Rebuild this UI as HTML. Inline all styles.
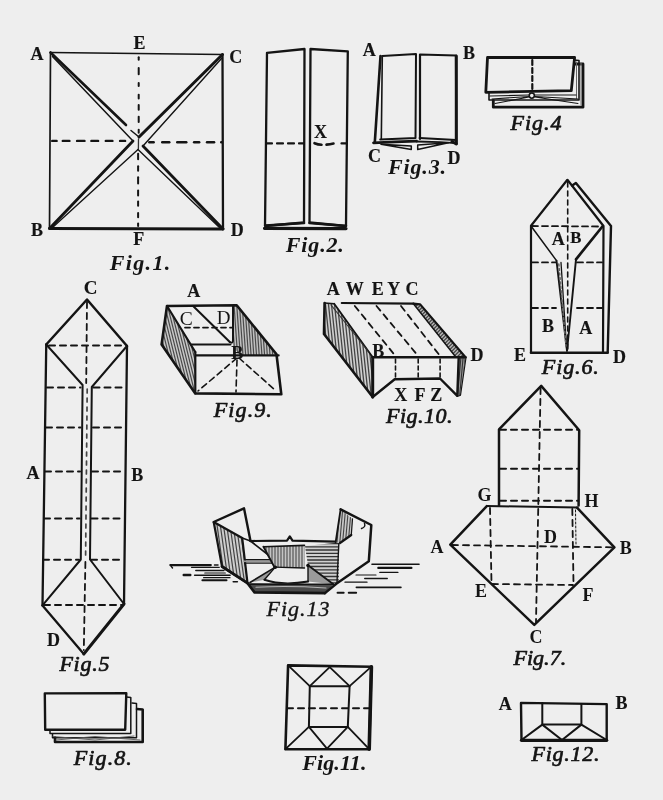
<!DOCTYPE html>
<html><head><meta charset="utf-8"><style>
html,body{margin:0;padding:0;background:#eeeeee;}
svg{display:block;filter:blur(0.35px);}
.lb{font-family:"Liberation Serif",serif;font-weight:bold;fill:#141414;text-anchor:middle;stroke:#141414;stroke-width:0.15px;}
.lm{font-family:"Liberation Serif",serif;font-weight:bold;fill:#141414;text-anchor:middle;stroke:none;}
.lr{font-family:"Liberation Serif",serif;fill:#141414;text-anchor:middle;stroke:none;}
.fgh{font-family:"Liberation Serif",serif;font-weight:bold;font-style:italic;fill:#141414;stroke:none;}
.fgm{font-family:"Liberation Serif",serif;font-style:italic;fill:#141414;stroke:#141414;stroke-width:0.7px;}
.fgl{font-family:"Liberation Serif",serif;font-style:italic;fill:#141414;stroke:#141414;stroke-width:0.35px;}
</style></head><body>
<svg width="663" height="800" viewBox="0 0 663 800">
<rect width="663" height="800" fill="#eeeeee"/>
<g fill="none" stroke="#141414" stroke-linecap="round" stroke-linejoin="round">
<line x1="50.5" y1="52.5" x2="222.5" y2="54.5" stroke-width="1.7"/>
<line x1="50.5" y1="52.5" x2="49.5" y2="228.5" stroke-width="1.7"/>
<line x1="222.5" y1="54.5" x2="223" y2="229" stroke-width="2.3"/>
<line x1="49.5" y1="228.5" x2="223" y2="229" stroke-width="2.9"/>
<line x1="138.7" y1="57.2" x2="138.7" y2="59.7" stroke-width="2.0"/>
<line x1="138.7" y1="67.9" x2="138.7" y2="74.3" stroke-width="2.0"/>
<line x1="138.7" y1="83.0" x2="138.7" y2="86.1" stroke-width="2.0"/>
<line x1="138.7" y1="94.8" x2="138.7" y2="98.4" stroke-width="2.0"/>
<line x1="138.7" y1="104.9" x2="138.7" y2="109.7" stroke-width="2.0"/>
<line x1="138.7" y1="116.7" x2="138.7" y2="122.0" stroke-width="2.0"/>
<line x1="138.7" y1="129.7" x2="138.7" y2="132.7" stroke-width="2.0"/>
<line x1="138.1" y1="153.7" x2="138.1" y2="159.2" stroke-width="2.0"/>
<line x1="138.1" y1="166.3" x2="138.1" y2="170.7" stroke-width="2.0"/>
<line x1="138.1" y1="177.3" x2="138.1" y2="183.4" stroke-width="2.0"/>
<line x1="138.1" y1="190.5" x2="138.1" y2="195.5" stroke-width="2.0"/>
<line x1="138.1" y1="201.5" x2="138.1" y2="205.8" stroke-width="2.0"/>
<line x1="138.1" y1="213.0" x2="138.1" y2="217.3" stroke-width="2.0"/>
<line x1="138.1" y1="223.4" x2="138.1" y2="226.0" stroke-width="2.0"/>
<line x1="138.5" y1="139" x2="138.4" y2="148.5" stroke-width="1.3" stroke="#333"/>
<line x1="52.2" y1="140.9" x2="56.6" y2="140.9" stroke-width="2.4"/>
<line x1="62.8" y1="140.9" x2="69.4" y2="140.9" stroke-width="2.4"/>
<line x1="77.1" y1="140.9" x2="84.5" y2="140.9" stroke-width="2.4"/>
<line x1="91.4" y1="140.9" x2="98.1" y2="140.9" stroke-width="2.4"/>
<line x1="105.8" y1="140.9" x2="112.4" y2="140.9" stroke-width="2.4"/>
<line x1="120.1" y1="140.9" x2="125.1" y2="140.9" stroke-width="2.4"/>
<line x1="149.3" y1="142.2" x2="153.7" y2="142.2" stroke-width="2.4"/>
<line x1="162.2" y1="142.2" x2="169.3" y2="142.2" stroke-width="2.4"/>
<line x1="177.2" y1="142.2" x2="186.3" y2="142.2" stroke-width="2.4"/>
<line x1="194.1" y1="142.2" x2="199.2" y2="142.2" stroke-width="2.4"/>
<line x1="207.0" y1="142.2" x2="214.1" y2="142.2" stroke-width="2.4"/>
<line x1="221.2" y1="142.2" x2="221.6" y2="142.2" stroke-width="2.4"/>
<line x1="50.5" y1="52.5" x2="126" y2="125" stroke-width="2.6"/>
<line x1="131" y1="130.5" x2="139" y2="137" stroke-width="1.5"/>
<line x1="52.5" y1="56.5" x2="133" y2="141" stroke-width="1.5"/>
<line x1="222.5" y1="54.5" x2="139" y2="137" stroke-width="3.0"/>
<line x1="221.5" y1="58.5" x2="143" y2="146" stroke-width="1.4"/>
<line x1="223" y1="229" x2="143" y2="146" stroke-width="2.8"/>
<line x1="220" y1="228" x2="138" y2="149.5" stroke-width="1.4"/>
<line x1="52.5" y1="227.5" x2="138" y2="149.5" stroke-width="1.4"/>
<line x1="49.5" y1="228.5" x2="133" y2="141" stroke-width="2.8"/>
<text x="37.0" y="60.3" class="lb" font-size="18.0">A</text>
<text x="139.6" y="48.8" class="lb" font-size="18.0">E</text>
<text x="235.8" y="62.5" class="lb" font-size="18.0">C</text>
<text x="37.0" y="235.8" class="lb" font-size="18.0">B</text>
<text x="237.2" y="236.4" class="lb" font-size="18.0">D</text>
<text x="138.8" y="245.4" class="lb" font-size="18.0">F</text>
<text x="109.8" y="270.3" class="fgh" font-size="22" textLength="60.4" lengthAdjust="spacing">Fig.1.</text>
<path d="M267,52.8 L304.5,49 L304,222.5 L265,226 Z" stroke-width="2.3"/>
<path d="M310.5,49 L347.8,51.3 L346,226 L309.5,222.5 Z" stroke-width="2.3"/>
<path d="M264.5,228.3 L346,228.6" stroke-width="3.2"/>
<path d="M266,225.5 L304,223 M309.5,223 L346,226" stroke-width="2.6"/>
<line x1="266" y1="143.4" x2="304" y2="143.4" stroke-width="2.2" stroke-dasharray="6,5"/>
<path d="M314.5,143.2 Q318,144.6 321.5,144.8" stroke-width="2.6"/>
<path d="M326.5,144.6 Q330,144.4 333.5,143.6" stroke-width="2.6"/>
<line x1="341.5" y1="143.4" x2="346.5" y2="143.4" stroke-width="2.2"/>
<text x="320.5" y="137.9" class="lb" font-size="18.0">X</text>
<text x="285.8" y="252" class="fgh" font-size="22" textLength="58.0" lengthAdjust="spacing">Fig.2.</text>
<path d="M382.3,56 L416,54 L415.5,138 L380.2,139.5" stroke-width="2.0"/>
<line x1="382.3" y1="56" x2="381.3" y2="139" stroke-width="1.6"/>
<path d="M380.5,56 L374.8,142.3" stroke-width="2.6"/>
<path d="M420,139 L420,54.5 L456,55.5 L456.3,143.5" stroke-width="2.2"/>
<line x1="456.3" y1="56" x2="456.3" y2="143.5" stroke-width="3"/>
<line x1="419.6" y1="138" x2="456" y2="140" stroke-width="2.0"/>
<path d="M373.5,142.8 L395,141.8 L416.5,141.2" stroke-width="2.8"/>
<path d="M416.5,141.5 L440,142.2 L455.5,143.2" stroke-width="1.8"/>
<line x1="452" y1="141.5" x2="456.3" y2="144" stroke-width="3.0"/>
<path d="M381,144.3 L411.3,146 L411.3,149.5 Z" stroke-width="1.5"/>
<path d="M417.7,145 L448.4,142.7 L417.7,149.5 Z" stroke-width="1.5"/>
<text x="369.2" y="55.5" class="lb" font-size="18.0">A</text>
<text x="468.9" y="58.8" class="lb" font-size="18.0">B</text>
<text x="374.6" y="162.2" class="lb" font-size="18.0">C</text>
<text x="454.1" y="164.0" class="lb" font-size="18.0">D</text>
<text x="388.0" y="174.2" class="fgh" font-size="22" textLength="58.0" lengthAdjust="spacing">Fig.3.</text>
<path d="M575,64 L583,64 L583,107.2 L493.3,107.2 L493.3,100.5" stroke-width="2.8"/>
<path d="M574,60 L579,60.5 L579,100 L489,100 L489,93" stroke-width="1.6"/>
<line x1="576.5" y1="62" x2="576.5" y2="99" stroke-width="1.0" stroke="#666"/>
<line x1="581" y1="63" x2="581" y2="105" stroke-width="1.0" stroke="#777"/>
<path d="M487.5,57.5 L574.6,57.5 L571.3,90.7 L485.8,92.3 Z" stroke-width="2.8"/>
<line x1="532.3" y1="60" x2="532.3" y2="89" stroke-width="2.2" stroke-dasharray="5,3"/>
<circle cx="531.8" cy="95.6" r="2.6" stroke-width="1.6"/>
<path d="M490,96 L529,95 M535,95 L576,95 M495,103.5 L529,97 M535,97 L578,103.5 M492,99 L529,96.5 M535,96.5 L578,99" stroke-width="1.1"/>
<text x="510.5" y="130.1" class="fgm" font-size="22" textLength="51.0" lengthAdjust="spacing">Fig.4</text>
<path d="M46.25,344.5 L87,299.5 L127,346" stroke-width="2.5"/>
<line x1="46.25" y1="344.5" x2="42.5" y2="605.4" stroke-width="2.3"/>
<line x1="127" y1="346" x2="124" y2="604" stroke-width="2.3"/>
<path d="M46.25,344.5 L82.6,385 L80.8,559.5 L42.5,605.4" stroke-width="2.0"/>
<path d="M127,346 L91.8,387 L90,559.5 L124,604" stroke-width="2.0"/>
<line x1="87.2" y1="389" x2="85.6" y2="557" stroke-width="1.7" stroke-dasharray="4,5" stroke="#444"/>
<path d="M42.5,605.4 L83.8,654" stroke-width="2.3"/>
<path d="M124,604 L83.8,654" stroke-width="3.0"/>
<line x1="87" y1="302" x2="86.2" y2="383" stroke-width="1.8" stroke-dasharray="6,5"/>
<line x1="85.4" y1="562" x2="83.8" y2="650" stroke-width="1.8" stroke-dasharray="6,5"/>
<line x1="49" y1="345.5" x2="125" y2="345.5" stroke-width="2.0" stroke-dasharray="6,5"/>
<line x1="47" y1="387.5" x2="80.5" y2="387.5" stroke-width="2.0" stroke-dasharray="6,5"/>
<line x1="93.5" y1="387.5" x2="126" y2="387.5" stroke-width="2.0" stroke-dasharray="6,5"/>
<line x1="46" y1="427.5" x2="80.5" y2="427.5" stroke-width="2.0" stroke-dasharray="6,5"/>
<line x1="93" y1="427.5" x2="126" y2="427.5" stroke-width="2.0" stroke-dasharray="6,5"/>
<line x1="45" y1="471.5" x2="80" y2="471.5" stroke-width="2.0" stroke-dasharray="6,5"/>
<line x1="92" y1="471.5" x2="125" y2="471.5" stroke-width="2.0" stroke-dasharray="6,5"/>
<line x1="44" y1="518.6" x2="79.5" y2="518.6" stroke-width="2.0" stroke-dasharray="6,5"/>
<line x1="91.5" y1="518.6" x2="124.5" y2="518.6" stroke-width="2.0" stroke-dasharray="6,5"/>
<line x1="43" y1="559.7" x2="79" y2="559.7" stroke-width="2.0" stroke-dasharray="6,5"/>
<line x1="91" y1="559.7" x2="124" y2="559.7" stroke-width="2.0" stroke-dasharray="6,5"/>
<line x1="44" y1="605" x2="122" y2="605" stroke-width="2.0" stroke-dasharray="6,5"/>
<text x="90.5" y="294.2" class="lb" font-size="19.0">C</text>
<text x="33.0" y="478.5" class="lb" font-size="18.0">A</text>
<text x="137.3" y="480.5" class="lb" font-size="18.0">B</text>
<text x="53.6" y="646.0" class="lb" font-size="18.0">D</text>
<text x="59.4" y="671.1" class="fgm" font-size="22" textLength="50.0" lengthAdjust="spacing">Fig.5</text>
<path d="M572.2,185.6 L575.9,183 L611,226 L607.7,352" stroke-width="2.4"/>
<path d="M531,352.5 L531,225.7 L567.4,179.8 L603.5,226 L603,352.5" stroke-width="2.2"/>
<line x1="531" y1="352.7" x2="607.7" y2="352.7" stroke-width="2.6"/>
<line x1="531" y1="226" x2="556.5" y2="260.6" stroke-width="1.5"/>
<path d="M556.5,260.6 L567,351 L576,259.3" stroke-width="1.9"/>
<line x1="576" y1="259.3" x2="602.4" y2="226.5" stroke-width="2.7"/>
<line x1="561" y1="262.5" x2="566.6" y2="348" stroke-width="1.3"/>
<line x1="558.8" y1="264" x2="566" y2="346" stroke-width="1.6" stroke-dasharray="2,2.5" stroke="#666"/>
<line x1="567.7" y1="182" x2="567.7" y2="349" stroke-width="1.6" stroke-dasharray="5,4"/>
<line x1="532" y1="226" x2="601" y2="226.5" stroke-width="1.8" stroke-dasharray="6,4"/>
<line x1="532" y1="262.4" x2="556" y2="262.4" stroke-width="1.8" stroke-dasharray="6,4"/>
<line x1="577" y1="262.4" x2="602" y2="262.4" stroke-width="1.8" stroke-dasharray="6,4"/>
<line x1="532" y1="308" x2="556" y2="308" stroke-width="1.8" stroke-dasharray="6,4"/>
<line x1="577" y1="308" x2="602" y2="308" stroke-width="1.8" stroke-dasharray="6,4"/>
<text x="558.2" y="244.6" class="lb" font-size="18.0">A</text>
<text x="575.9" y="243.3" class="lb" font-size="16.8">B</text>
<text x="547.9" y="331.8" class="lb" font-size="18.0">B</text>
<text x="585.8" y="334.0" class="lb" font-size="18.0">A</text>
<text x="520.1" y="361.2" class="lb" font-size="18.0">E</text>
<text x="619.4" y="363.2" class="lb" font-size="18.0">D</text>
<text x="541.8" y="373.5" class="fgm" font-size="22" textLength="57.0" lengthAdjust="spacing">Fig.6.</text>
<path d="M499,505.5 L499,429.3 L541.2,385.9 L579.2,430.2 L578.6,505.5" stroke-width="2.5"/>
<line x1="487" y1="506" x2="577.5" y2="507.5" stroke-width="2.0"/>
<line x1="500" y1="429.7" x2="578" y2="429.7" stroke-width="2.0" stroke-dasharray="6,5"/>
<line x1="500" y1="468.8" x2="578" y2="468.8" stroke-width="2.0" stroke-dasharray="6,5"/>
<line x1="500" y1="500.8" x2="578" y2="500.8" stroke-width="2.0" stroke-dasharray="6,5"/>
<line x1="540.6" y1="388" x2="536" y2="622" stroke-width="1.8" stroke-dasharray="6,5"/>
<path d="M486.8,506.1 L450.3,544.7 L534.3,624.9 L614.4,547.3 L577,507.7" stroke-width="2.5"/>
<line x1="452" y1="545" x2="612" y2="547.3" stroke-width="1.8" stroke-dasharray="6,5"/>
<line x1="490" y1="508" x2="491.5" y2="583" stroke-width="1.8" stroke-dasharray="6,5"/>
<line x1="572.3" y1="509" x2="573.5" y2="584" stroke-width="1.8" stroke-dasharray="6,5"/>
<line x1="492" y1="584" x2="573" y2="585" stroke-width="1.8" stroke-dasharray="6,5"/>
<line x1="575.5" y1="510" x2="576" y2="544" stroke-width="1.0" stroke-dasharray="2,2"/>
<text x="484.5" y="500.8" class="lm" font-size="18.0">G</text>
<text x="591.5" y="507.3" class="lm" font-size="18.0">H</text>
<text x="437.0" y="552.5" class="lm" font-size="18.0">A</text>
<text x="550.6" y="542.5" class="lm" font-size="18.0">D</text>
<text x="625.8" y="554.3" class="lm" font-size="18.0">B</text>
<text x="480.9" y="597.4" class="lm" font-size="18.0">E</text>
<text x="587.9" y="600.5" class="lm" font-size="18.0">F</text>
<text x="536.1" y="643.3" class="lm" font-size="18.0">C</text>
<text x="513.4" y="664.6" class="fgm" font-size="22" textLength="52.8" lengthAdjust="spacing">Fig.7.</text>
<path d="M137,709 L142.7,709.5 L142.7,742 L55,742 L55,737.5" stroke-width="2.6"/>
<path d="M132,703 L136.5,703.5 L136.5,737.8 L52.5,737.8 L52.5,734" stroke-width="1.5"/>
<path d="M126.5,697 L130.8,697.5 L130.8,733.6 L50,733.6 L50,730.5" stroke-width="1.5"/>
<path d="M44.8,693.4 L126.3,693.2 L125.2,729.8 L45.2,729.8 Z" stroke-width="2.4"/>
<path d="M56,740 L95,736.5 L140,740 M53,736.5 L95,740 L134,736" stroke-width="0.9" stroke="#555"/>
<text x="73.8" y="765.1" class="fgm" font-size="22" textLength="58.0" lengthAdjust="spacing">Fig.8.</text>
<path d="M167,306 L195.3,352 L195.3,393 L161.6,344.5 Z" fill="#c8c8c8" stroke="none"/>
<clipPath id="c1"><path d="M167,306 L195.3,352 L195.3,393 L161.6,344.5 Z"/></clipPath><path clip-path="url(#c1)" d="M254.2,229.1 L301.8,420.3 M251.6,229.8 L299.2,420.9 M248.9,230.4 L296.6,421.6 M246.3,231.1 L294.0,422.2 M243.7,231.7 L291.4,422.9 M241.1,232.4 L288.7,423.5 M238.5,233.0 L286.1,424.2 M235.8,233.7 L283.5,424.8 M233.2,234.3 L280.9,425.5 M230.6,235.0 L278.3,426.1 M228.0,235.6 L275.6,426.8 M225.4,236.3 L273.0,427.4 M222.7,236.9 L270.4,428.1 M220.1,237.6 L267.8,428.7 M217.5,238.2 L265.2,429.4 M214.9,238.9 L262.5,430.1 M212.3,239.6 L259.9,430.7 M209.6,240.2 L257.3,431.4 M207.0,240.9 L254.7,432.0 M204.4,241.5 L252.1,432.7 M201.8,242.2 L249.4,433.3 M199.2,242.8 L246.8,434.0 M196.5,243.5 L244.2,434.6 M193.9,244.1 L241.6,435.3 M191.3,244.8 L239.0,435.9 M188.7,245.4 L236.3,436.6 M186.1,246.1 L233.7,437.2 M183.4,246.7 L231.1,437.9 M180.8,247.4 L228.5,438.5 M178.2,248.0 L225.9,439.2 M175.6,248.7 L223.2,439.8 M173.0,249.4 L220.6,440.5 M170.3,250.0 L218.0,441.2 M167.7,250.7 L215.4,441.8 M165.1,251.3 L212.8,442.5 M162.5,252.0 L210.1,443.1 M159.9,252.6 L207.5,443.8 M157.2,253.3 L204.9,444.4 M154.6,253.9 L202.3,445.1 M152.0,254.6 L199.7,445.7 M149.4,255.2 L197.0,446.4 M146.8,255.9 L194.4,447.0 M144.1,256.5 L191.8,447.7 M141.5,257.2 L189.2,448.3 M138.9,257.8 L186.6,449.0 M136.3,258.5 L183.9,449.6 M133.7,259.2 L181.3,450.3 M131.0,259.8 L178.7,451.0 M128.4,260.5 L176.1,451.6 M125.8,261.1 L173.5,452.3 M123.2,261.8 L170.8,452.9 M120.6,262.4 L168.2,453.6 M117.9,263.1 L165.6,454.2 M115.3,263.7 L163.0,454.9 M112.7,264.4 L160.4,455.5 M110.1,265.0 L157.7,456.2 M107.5,265.7 L155.1,456.8 M104.8,266.3 L152.5,457.5 M102.2,267.0 L149.9,458.1 M99.6,267.6 L147.3,458.8 M97.0,268.3 L144.6,459.4 M94.4,268.9 L142.0,460.1 M91.7,269.6 L139.4,460.8 M89.1,270.3 L136.8,461.4 M86.5,270.9 L134.2,462.1 M83.9,271.6 L131.5,462.7 M81.3,272.2 L128.9,463.4 M78.6,272.9 L126.3,464.0 M76.0,273.5 L123.7,464.7 M73.4,274.2 L121.1,465.3 M70.8,274.8 L118.4,466.0 M68.2,275.5 L115.8,466.6 M65.5,276.1 L113.2,467.3 M62.9,276.8 L110.6,467.9 M60.3,277.4 L108.0,468.6 M57.7,278.1 L105.3,469.2 M55.1,278.7 L102.7,469.9" stroke-width="1.2" stroke="#4a4a4a"/>
<path d="M234,306 L236.7,305.3 L276.5,354.5 L240,355.3 L233,347 Z" fill="#c0c0c0" stroke="none"/>
<clipPath id="c2"><path d="M234,306 L236.7,305.3 L276.5,354.5 L240,355.3 L233,347 Z"/></clipPath><path clip-path="url(#c2)" d="M325.1,253.3 L335.2,396.8 M322.5,253.5 L332.5,397.0 M319.8,253.7 L329.8,397.1 M317.1,253.8 L327.1,397.3 M314.4,254.0 L324.4,397.5 M311.7,254.2 L321.7,397.7 M309.0,254.4 L319.0,397.9 M306.3,254.6 L316.3,398.1 M303.6,254.8 L313.6,398.3 M300.9,255.0 L310.9,398.5 M298.2,255.2 L308.2,398.7 M295.5,255.4 L305.6,398.8 M292.8,255.5 L302.9,399.0 M290.1,255.7 L300.2,399.2 M287.4,255.9 L297.5,399.4 M284.7,256.1 L294.8,399.6 M282.1,256.3 L292.1,399.8 M279.4,256.5 L289.4,400.0 M276.7,256.7 L286.7,400.2 M274.0,256.9 L284.0,400.3 M271.3,257.1 L281.3,400.5 M268.6,257.2 L278.6,400.7 M265.9,257.4 L275.9,400.9 M263.2,257.6 L273.2,401.1 M260.5,257.8 L270.5,401.3 M257.8,258.0 L267.8,401.5 M255.1,258.2 L265.2,401.7 M252.4,258.4 L262.5,401.9 M249.7,258.6 L259.8,402.0 M247.0,258.7 L257.1,402.2 M244.3,258.9 L254.4,402.4 M241.7,259.1 L251.7,402.6 M239.0,259.3 L249.0,402.8 M236.3,259.5 L246.3,403.0 M233.6,259.7 L243.6,403.2 M230.9,259.9 L240.9,403.4 M228.2,260.1 L238.2,403.5 M225.5,260.3 L235.5,403.7 M222.8,260.4 L232.8,403.9 M220.1,260.6 L230.1,404.1 M217.4,260.8 L227.4,404.3 M214.7,261.0 L224.8,404.5 M212.0,261.2 L222.1,404.7 M209.3,261.4 L219.4,404.9 M206.6,261.6 L216.7,405.1 M203.9,261.8 L214.0,405.2 M201.3,261.9 L211.3,405.4 M198.6,262.1 L208.6,405.6 M195.9,262.3 L205.9,405.8 M193.2,262.5 L203.2,406.0 M190.5,262.7 L200.5,406.2 M187.8,262.9 L197.8,406.4 M185.1,263.1 L195.1,406.6 M182.4,263.3 L192.4,406.8 M179.7,263.5 L189.7,406.9 M177.0,263.6 L187.0,407.1 M174.3,263.8 L184.4,407.3" stroke-width="1.2" stroke="#4a4a4a"/>
<path d="M195.3,393.4 L161.6,344.5 L167,306 L236.7,305.3 L276.5,354.3 L281.3,394.3 L195.3,393.4" stroke-width="2.6"/>
<line x1="167" y1="306" x2="195.3" y2="352" stroke-width="2.2"/>
<line x1="195.3" y1="352" x2="195.3" y2="393.4" stroke-width="2.2"/>
<line x1="191" y1="344.5" x2="230.4" y2="344.5" stroke-width="2.2"/>
<line x1="193.6" y1="306.5" x2="229.8" y2="342" stroke-width="2.0"/>
<path d="M229.8,342 Q233,344 233,340 L233,306" stroke-width="2.0"/>
<line x1="185" y1="327.6" x2="232" y2="327.6" stroke-width="1.8" stroke-dasharray="5,4"/>
<line x1="196" y1="355.4" x2="278.6" y2="355.4" stroke-width="2.2"/>
<line x1="237" y1="358" x2="198" y2="391" stroke-width="1.6" stroke-dasharray="6,4"/>
<line x1="237" y1="360" x2="236" y2="392" stroke-width="1.6" stroke-dasharray="6,4"/>
<line x1="239" y1="358" x2="275" y2="390" stroke-width="1.6" stroke-dasharray="6,4"/>
<text x="193.8" y="296.6" class="lb" font-size="18.0">A</text>
<text x="186.3" y="325.2" class="lr" font-size="19.5">C</text>
<text x="223.7" y="324.0" class="lr" font-size="19.0">D</text>
<text x="237.3" y="359.4" class="lb" font-size="18.0">B</text>
<text x="213.8" y="417.2" class="fgm" font-size="22" textLength="58.0" lengthAdjust="spacing">Fig.9.</text>
<path d="M324.6,303 L334.2,303.7 L372.7,357.3 L372.7,397 L324,334 Z" fill="#cfcfcf" stroke="none"/>
<clipPath id="c3"><path d="M324.6,303 L334.2,303.7 L372.7,357.3 L372.7,397 L324,334 Z"/></clipPath><path clip-path="url(#c3)" d="M453.1,227.1 L476.3,448.4 M450.1,227.4 L473.4,448.7 M447.1,227.7 L470.4,449.1 M444.1,228.0 L467.4,449.4 M441.1,228.4 L464.4,449.7 M438.2,228.7 L461.4,450.0 M435.2,229.0 L458.4,450.3 M432.2,229.3 L455.5,450.6 M429.2,229.6 L452.5,450.9 M426.2,229.9 L449.5,451.3 M423.2,230.2 L446.5,451.6 M420.3,230.6 L443.5,451.9 M417.3,230.9 L440.5,452.2 M414.3,231.2 L437.6,452.5 M411.3,231.5 L434.6,452.8 M408.3,231.8 L431.6,453.1 M405.3,232.1 L428.6,453.4 M402.4,232.4 L425.6,453.8 M399.4,232.8 L422.6,454.1 M396.4,233.1 L419.7,454.4 M393.4,233.4 L416.7,454.7 M390.4,233.7 L413.7,455.0 M387.4,234.0 L410.7,455.3 M384.5,234.3 L407.7,455.6 M381.5,234.6 L404.7,456.0 M378.5,234.9 L401.8,456.3 M375.5,235.3 L398.8,456.6 M372.5,235.6 L395.8,456.9 M369.5,235.9 L392.8,457.2 M366.6,236.2 L389.8,457.5 M363.6,236.5 L386.8,457.8 M360.6,236.8 L383.8,458.2 M357.6,237.1 L380.9,458.5 M354.6,237.5 L377.9,458.8 M351.6,237.8 L374.9,459.1 M348.7,238.1 L371.9,459.4 M345.7,238.4 L368.9,459.7 M342.7,238.7 L365.9,460.0 M339.7,239.0 L363.0,460.3 M336.7,239.3 L360.0,460.7 M333.7,239.7 L357.0,461.0 M330.8,240.0 L354.0,461.3 M327.8,240.3 L351.0,461.6 M324.8,240.6 L348.0,461.9 M321.8,240.9 L345.1,462.2 M318.8,241.2 L342.1,462.5 M315.8,241.5 L339.1,462.9 M312.9,241.8 L336.1,463.2 M309.9,242.2 L333.1,463.5 M306.9,242.5 L330.1,463.8 M303.9,242.8 L327.2,464.1 M300.9,243.1 L324.2,464.4 M297.9,243.4 L321.2,464.7 M294.9,243.7 L318.2,465.1 M292.0,244.0 L315.2,465.4 M289.0,244.4 L312.2,465.7 M286.0,244.7 L309.3,466.0 M283.0,245.0 L306.3,466.3 M280.0,245.3 L303.3,466.6 M277.0,245.6 L300.3,466.9 M274.1,245.9 L297.3,467.2 M271.1,246.2 L294.3,467.6 M268.1,246.6 L291.4,467.9 M265.1,246.9 L288.4,468.2 M262.1,247.2 L285.4,468.5 M259.1,247.5 L282.4,468.8 M256.2,247.8 L279.4,469.1 M253.2,248.1 L276.4,469.4 M250.2,248.4 L273.5,469.8 M247.2,248.7 L270.5,470.1 M244.2,249.1 L267.5,470.4 M241.2,249.4 L264.5,470.7 M238.3,249.7 L261.5,471.0 M235.3,250.0 L258.5,471.3 M232.3,250.3 L255.6,471.6 M229.3,250.6 L252.6,472.0 M226.3,250.9 L249.6,472.3 M223.3,251.3 L246.6,472.6 M220.4,251.6 L243.6,472.9" stroke-width="1.3" stroke="#444"/>
<path d="M413.4,303.7 L420.2,304.4 L465.5,357.3 L456,357.3 Z" fill="#bbb" stroke="none"/>
<clipPath id="c4"><path d="M413.4,303.7 L420.2,304.4 L465.5,357.3 L456,357.3 Z"/></clipPath><path clip-path="url(#c4)" d="M555.1,332.5 L441.4,446.2 M553.3,330.6 L439.6,444.3 M551.5,328.8 L437.7,442.5 M549.6,327.0 L435.9,440.7 M547.8,325.1 L434.1,438.8 M545.9,323.3 L432.2,437.0 M544.1,321.4 L430.4,435.2 M542.3,319.6 L428.6,433.3 M540.4,317.8 L426.7,431.5 M538.6,315.9 L424.9,429.6 M536.8,314.1 L423.0,427.8 M534.9,312.3 L421.2,426.0 M533.1,310.4 L419.4,424.1 M531.2,308.6 L417.5,422.3 M529.4,306.7 L415.7,420.4 M527.6,304.9 L413.8,418.6 M525.7,303.1 L412.0,416.8 M523.9,301.2 L410.2,414.9 M522.0,299.4 L408.3,413.1 M520.2,297.5 L406.5,411.3 M518.4,295.7 L404.7,409.4 M516.5,293.9 L402.8,407.6 M514.7,292.0 L401.0,405.7 M512.9,290.2 L399.1,403.9 M511.0,288.4 L397.3,402.1 M509.2,286.5 L395.5,400.2 M507.3,284.7 L393.6,398.4 M505.5,282.8 L391.8,396.5 M503.7,281.0 L389.9,394.7 M501.8,279.2 L388.1,392.9 M500.0,277.3 L386.3,391.0 M498.1,275.5 L384.4,389.2 M496.3,273.6 L382.6,387.4 M494.5,271.8 L380.8,385.5 M492.6,270.0 L378.9,383.7 M490.8,268.1 L377.1,381.8 M489.0,266.3 L375.2,380.0 M487.1,264.5 L373.4,378.2 M485.3,262.6 L371.6,376.3 M483.4,260.8 L369.7,374.5 M481.6,258.9 L367.9,372.6 M479.8,257.1 L366.0,370.8 M477.9,255.3 L364.2,369.0 M476.1,253.4 L362.4,367.1 M474.2,251.6 L360.5,365.3 M472.4,249.7 L358.7,363.5 M470.6,247.9 L356.9,361.6 M468.7,246.1 L355.0,359.8 M466.9,244.2 L353.2,357.9 M465.1,242.4 L351.3,356.1 M463.2,240.6 L349.5,354.3 M461.4,238.7 L347.7,352.4 M459.5,236.9 L345.8,350.6 M457.7,235.0 L344.0,348.7 M455.9,233.2 L342.1,346.9 M454.0,231.4 L340.3,345.1 M452.2,229.5 L338.5,343.2 M450.3,227.7 L336.6,341.4 M448.5,225.8 L334.8,339.6 M446.7,224.0 L333.0,337.7 M444.8,222.2 L331.1,335.9 M443.0,220.3 L329.3,334.0 M441.2,218.5 L327.4,332.2 M439.3,216.7 L325.6,330.4 M437.5,214.8 L323.8,328.5" stroke-width="1.3" stroke="#444"/>
<path d="M324.6,303 L324,334 L372.7,397" stroke-width="2.6"/>
<line x1="334.2" y1="303.7" x2="372.7" y2="357.3" stroke-width="1.8"/>
<line x1="331" y1="305" x2="368" y2="351" stroke-width="1.1" stroke="#333"/>
<line x1="324.6" y1="303" x2="334.2" y2="303.7" stroke-width="1.6"/>
<line x1="341.8" y1="303" x2="413.4" y2="303.7" stroke-width="2.2"/>
<path d="M413.4,303.7 L420.2,304.4 L465.5,357.3 L460,395 L457.3,395.8" stroke-width="2.2"/>
<line x1="413.4" y1="303.7" x2="456" y2="357.3" stroke-width="1.5"/>
<path d="M458.7,357.3 L465.5,357.3 L460,395 L457.3,395.8 Z" fill="#999" stroke="none"/>
<clipPath id="c5"><path d="M458.7,357.3 L465.5,357.3 L460,395 L457.3,395.8 Z"/></clipPath><path clip-path="url(#c5)" d="M513.5,336.7 L505.8,424.8 M511.3,336.5 L503.6,424.6 M509.1,336.3 L501.4,424.4 M506.9,336.1 L499.2,424.2 M504.7,336.0 L497.0,424.0 M502.5,335.8 L494.8,423.9 M500.3,335.6 L492.6,423.7 M498.1,335.4 L490.4,423.5 M495.9,335.2 L488.2,423.3 M493.7,335.0 L486.0,423.1 M491.6,334.8 L483.8,422.9 M489.4,334.6 L481.7,422.7 M487.2,334.4 L479.5,422.5 M485.0,334.2 L477.3,422.3 M482.8,334.0 L475.1,422.1 M480.6,333.8 L472.9,421.9 M478.4,333.7 L470.7,421.7 M476.2,333.5 L468.5,421.6 M474.0,333.3 L466.3,421.4 M471.8,333.1 L464.1,421.2 M469.6,332.9 L461.9,421.0 M467.4,332.7 L459.7,420.8 M465.3,332.5 L457.5,420.6 M463.1,332.3 L455.4,420.4 M460.9,332.1 L453.2,420.2 M458.7,331.9 L451.0,420.0 M456.5,331.7 L448.8,419.8 M454.3,331.5 L446.6,419.6 M452.1,331.4 L444.4,419.4 M449.9,331.2 L442.2,419.3 M447.7,331.0 L440.0,419.1 M445.5,330.8 L437.8,418.9 M443.3,330.6 L435.6,418.7 M441.1,330.4 L433.4,418.5 M439.0,330.2 L431.2,418.3 M436.8,330.0 L429.1,418.1 M434.6,329.8 L426.9,417.9 M432.4,329.6 L424.7,417.7 M430.2,329.4 L422.5,417.5 M428.0,329.2 L420.3,417.3 M425.8,329.1 L418.1,417.1 M423.6,328.9 L415.9,417.0 M421.4,328.7 L413.7,416.8 M419.2,328.5 L411.5,416.6 M417.0,328.3 L409.3,416.4" stroke-width="1.1" stroke="#333"/>
<line x1="372.7" y1="357.3" x2="465.5" y2="357.3" stroke-width="2.4"/>
<line x1="372.7" y1="357.3" x2="372.7" y2="397" stroke-width="3.0"/>
<path d="M372.7,397 L394.7,379.3 L440,378.5 L457.3,395.8 L458.7,357.3" stroke-width="2.4"/>
<line x1="395.5" y1="359" x2="395.5" y2="378" stroke-width="1.6" stroke-dasharray="4,3"/>
<line x1="418.2" y1="359" x2="418.2" y2="378" stroke-width="1.6" stroke-dasharray="4,3"/>
<line x1="440.1" y1="359" x2="440.1" y2="378" stroke-width="1.6" stroke-dasharray="4,3"/>
<line x1="354.8" y1="306" x2="395.5" y2="356" stroke-width="1.8" stroke-dasharray="6,5"/>
<line x1="376.5" y1="306" x2="418.2" y2="356" stroke-width="1.8" stroke-dasharray="6,5"/>
<line x1="401" y1="306" x2="440.1" y2="356" stroke-width="1.8" stroke-dasharray="6,5"/>
<text x="333.2" y="294.6" class="lb" font-size="18.0">A</text>
<text x="354.8" y="294.6" class="lb" font-size="18.0">W</text>
<text x="377.7" y="294.6" class="lb" font-size="18.0">E</text>
<text x="393.8" y="294.6" class="lb" font-size="18.0">Y</text>
<text x="412.1" y="294.6" class="lb" font-size="18.0">C</text>
<text x="378.3" y="356.6" class="lb" font-size="18.0">B</text>
<text x="477.1" y="360.8" class="lb" font-size="18.0">D</text>
<text x="400.8" y="400.6" class="lb" font-size="18.0">X</text>
<text x="420.1" y="400.6" class="lb" font-size="18.0">F</text>
<text x="436.2" y="400.6" class="lb" font-size="18.0">Z</text>
<text x="386.0" y="422.9" class="fgm" font-size="22" textLength="66.6" lengthAdjust="spacing">Fig.10.</text>
<path d="M288.1,665.4 L371.4,666.7 L369.2,749.2 L285.4,749.2 Z" stroke-width="2.6"/>
<line x1="371.4" y1="666.7" x2="369.2" y2="749.2" stroke-width="3.6"/>
<path d="M309.8,686.2 L349.6,686.2 L347.8,726.9 L308.9,726.9 Z" stroke-width="2.0"/>
<line x1="288.1" y1="665.4" x2="309.8" y2="686.2" stroke-width="1.8"/>
<line x1="371.4" y1="666.7" x2="349.6" y2="686.2" stroke-width="1.8"/>
<line x1="285.4" y1="749.2" x2="308.9" y2="726.9" stroke-width="1.8"/>
<line x1="369.2" y1="749.2" x2="347.8" y2="726.9" stroke-width="1.8"/>
<line x1="329.7" y1="667.2" x2="309.8" y2="686.2" stroke-width="1.8"/>
<line x1="329.7" y1="667.2" x2="349.6" y2="686.2" stroke-width="1.8"/>
<line x1="327" y1="748.6" x2="308.9" y2="726.9" stroke-width="1.8"/>
<line x1="327" y1="748.6" x2="347.8" y2="726.9" stroke-width="1.8"/>
<line x1="287" y1="708.3" x2="369" y2="708.3" stroke-width="2.0" stroke-dasharray="6,5"/>
<text x="302.2" y="770.4" class="fgh" font-size="22" textLength="64.2" lengthAdjust="spacing">Fig.11.</text>
<path d="M521,702.9 L606.7,704.1 L606.7,740.3 L521.5,740.3 Z" stroke-width="2.4"/>
<line x1="521.5" y1="740.3" x2="606.7" y2="740.3" stroke-width="3.2"/>
<path d="M542.3,703 L542.3,724.6 L581.4,724.6 L581.4,704" stroke-width="2.0"/>
<path d="M521.5,740 L542.3,724.6 L562,740 L581.4,724.6 L606.7,740" stroke-width="2.0"/>
<text x="505.2" y="710.2" class="lb" font-size="18.0">A</text>
<text x="621.6" y="709.0" class="lb" font-size="18.0">B</text>
<text x="531.6" y="760.5" class="fgm" font-size="22" textLength="67.8" lengthAdjust="spacing">Fig.12.</text>
<line x1="170.4" y1="565.1" x2="210.8" y2="565.1" stroke-width="2.2"/>
<line x1="214.5" y1="565.0" x2="218" y2="565.0" stroke-width="1.5"/>
<line x1="191.5" y1="567.3" x2="219.3" y2="567.3" stroke-width="1.2"/>
<line x1="195.8" y1="570.5" x2="224" y2="570.5" stroke-width="1.4"/>
<line x1="204.8" y1="573" x2="225.3" y2="573" stroke-width="1.2"/>
<line x1="183.7" y1="575" x2="190.3" y2="575" stroke-width="2.4"/>
<line x1="194.6" y1="575.2" x2="230.1" y2="575.2" stroke-width="1.5"/>
<line x1="203.6" y1="577.7" x2="230" y2="577.7" stroke-width="1.2"/>
<line x1="202.4" y1="580.2" x2="226.5" y2="580.2" stroke-width="2.0"/>
<line x1="233.2" y1="581.7" x2="237.4" y2="581.7" stroke-width="1.5"/>
<line x1="170.4" y1="565.1" x2="172.5" y2="568" stroke-width="1.4"/>
<line x1="372" y1="564.3" x2="419" y2="564.3" stroke-width="1.6"/>
<line x1="378.3" y1="567.9" x2="411.4" y2="567.9" stroke-width="2.2"/>
<line x1="379.8" y1="572.4" x2="397.9" y2="572.4" stroke-width="1.3"/>
<line x1="356" y1="575" x2="376" y2="575" stroke-width="1.1"/>
<line x1="364.7" y1="578.5" x2="387.3" y2="578.5" stroke-width="1.3"/>
<line x1="345" y1="582.2" x2="367" y2="582.2" stroke-width="1.3"/>
<line x1="356.4" y1="587.3" x2="400.9" y2="587.3" stroke-width="1.7"/>
<line x1="337.5" y1="592.8" x2="343.7" y2="592.8" stroke-width="1.9"/>
<line x1="348.7" y1="592.8" x2="356.2" y2="592.8" stroke-width="1.9"/>
<path d="M213.7,522 L242.2,538 L247.5,583.2 L222,566.5 Z" fill="#cdcdcd" stroke="none"/>
<clipPath id="c6"><path d="M213.7,522 L242.2,538 L247.5,583.2 L222,566.5 Z"/></clipPath><path clip-path="url(#c6)" d="M299.3,466.8 L320.3,616.1 M296.2,467.3 L317.1,616.5 M293.0,467.7 L314.0,617.0 M289.8,468.2 L310.8,617.4 M286.7,468.6 L307.6,617.9 M283.5,469.1 L304.5,618.3 M280.3,469.5 L301.3,618.8 M277.2,470.0 L298.1,619.2 M274.0,470.4 L295.0,619.7 M270.8,470.8 L291.8,620.1 M267.6,471.3 L288.6,620.6 M264.5,471.7 L285.5,621.0 M261.3,472.2 L282.3,621.4 M258.1,472.6 L279.1,621.9 M255.0,473.1 L275.9,622.3 M251.8,473.5 L272.8,622.8 M248.6,474.0 L269.6,623.2 M245.5,474.4 L266.4,623.7 M242.3,474.9 L263.3,624.1 M239.1,475.3 L260.1,624.6 M236.0,475.7 L256.9,625.0 M232.8,476.2 L253.8,625.5 M229.6,476.6 L250.6,625.9 M226.4,477.1 L247.4,626.3 M223.3,477.5 L244.3,626.8 M220.1,478.0 L241.1,627.2 M216.9,478.4 L237.9,627.7 M213.8,478.9 L234.8,628.1 M210.6,479.3 L231.6,628.6 M207.4,479.7 L228.4,629.0 M204.3,480.2 L225.2,629.5 M201.1,480.6 L222.1,629.9 M197.9,481.1 L218.9,630.3 M194.8,481.5 L215.7,630.8 M191.6,482.0 L212.6,631.2 M188.4,482.4 L209.4,631.7 M185.3,482.9 L206.2,632.1 M182.1,483.3 L203.1,632.6 M178.9,483.8 L199.9,633.0 M175.7,484.2 L196.7,633.5 M172.6,484.6 L193.6,633.9 M169.4,485.1 L190.4,634.4 M166.2,485.5 L187.2,634.8 M163.1,486.0 L184.0,635.2 M159.9,486.4 L180.9,635.7 M156.7,486.9 L177.7,636.1 M153.6,487.3 L174.5,636.6 M150.4,487.8 L171.4,637.0 M147.2,488.2 L168.2,637.5 M144.1,488.7 L165.0,637.9 M140.9,489.1 L161.9,638.4" stroke-width="1.2" stroke="#444"/>
<path d="M213.7,522 L242.2,538 L247.5,583.2 L222,566.5 Z" stroke-width="2.2"/>
<line x1="222" y1="566.5" x2="247.5" y2="583.2" stroke-width="2.8"/>
<path d="M213.7,522 L244,508.3 L250.5,541" stroke-width="2.4"/>
<line x1="242.2" y1="538" x2="250.5" y2="541" stroke-width="1.6"/>
<path d="M250.5,541 L287,540.6 L289.8,536.3 L292.5,540.6 L335.6,541.6" stroke-width="2.2"/>
<line x1="250.5" y1="541" x2="273.5" y2="559" stroke-width="1.6"/>
<line x1="244.5" y1="561.3" x2="273" y2="561.3" stroke-width="2.0" stroke="#999"/>
<line x1="244.5" y1="559.6" x2="273" y2="559.6" stroke-width="1.4"/>
<line x1="244.5" y1="563.1" x2="273" y2="563.1" stroke-width="1.4"/>
<path d="M263.5,546.7 L304.5,545.4 L304.5,568 L274.4,567.1 Z" fill="#c4c4c4" stroke="none"/>
<clipPath id="c7"><path d="M263.5,546.7 L304.5,545.4 L304.5,568 L274.4,567.1 Z"/></clipPath><path clip-path="url(#c7)" d="M341.0,504.4 L341.0,609.0 M338.0,504.4 L338.0,609.0 M335.0,504.4 L335.0,609.0 M332.0,504.4 L332.0,609.0 M329.0,504.4 L329.0,609.0 M326.0,504.4 L326.0,609.0 M323.0,504.4 L323.0,609.0 M320.0,504.4 L320.0,609.0 M317.0,504.4 L317.0,609.0 M314.0,504.4 L314.0,609.0 M311.0,504.4 L311.0,609.0 M308.0,504.4 L308.0,609.0 M305.0,504.4 L305.0,609.0 M302.0,504.4 L302.0,609.0 M299.0,504.4 L299.0,609.0 M296.0,504.4 L296.0,609.0 M293.0,504.4 L293.0,609.0 M290.0,504.4 L290.0,609.0 M287.0,504.4 L287.0,609.0 M284.0,504.4 L284.0,609.0 M281.0,504.4 L281.0,609.0 M278.0,504.4 L278.0,609.0 M275.0,504.4 L275.0,609.0 M272.0,504.4 L272.0,609.0 M269.0,504.4 L269.0,609.0 M266.0,504.4 L266.0,609.0 M263.0,504.4 L263.0,609.0 M260.0,504.4 L260.0,609.0 M257.0,504.4 L257.0,609.0 M254.0,504.4 L254.0,609.0 M251.0,504.4 L251.0,609.0 M248.0,504.4 L248.0,609.0 M245.0,504.4 L245.0,609.0 M242.0,504.4 L242.0,609.0 M239.0,504.4 L239.0,609.0 M236.0,504.4 L236.0,609.0 M233.0,504.4 L233.0,609.0 M230.0,504.4 L230.0,609.0 M227.0,504.4 L227.0,609.0" stroke-width="1.2" stroke="#555"/>
<line x1="263.5" y1="546.7" x2="304.5" y2="545.4" stroke-width="1.6"/>
<line x1="263.5" y1="546.7" x2="274.4" y2="567.1" stroke-width="1.9"/>
<line x1="274.4" y1="567.1" x2="304.5" y2="568" stroke-width="1.4"/>
<path d="M305,546 L339,542.5 L338.8,582 L332.5,584 L308,565.3 Z" fill="#d0d0d0" stroke="none"/>
<clipPath id="c8"><path d="M305,546 L339,542.5 L338.8,582 L332.5,584 L308,565.3 Z"/></clipPath><path clip-path="url(#c8)" d="M262.7,500.6 L381.3,500.6 M262.7,503.9 L381.3,503.9 M262.7,507.1 L381.3,507.1 M262.7,510.4 L381.3,510.4 M262.7,513.8 L381.3,513.8 M262.7,517.0 L381.3,517.0 M262.7,520.4 L381.3,520.4 M262.7,523.6 L381.3,523.6 M262.7,527.0 L381.3,527.0 M262.7,530.2 L381.3,530.2 M262.7,533.5 L381.3,533.5 M262.7,536.9 L381.3,536.9 M262.7,540.1 L381.3,540.1 M262.7,543.5 L381.3,543.5 M262.7,546.8 L381.3,546.8 M262.7,550.0 L381.3,550.0 M262.7,553.4 L381.3,553.4 M262.7,556.6 L381.3,556.6 M262.7,560.0 L381.3,560.0 M262.7,563.2 L381.3,563.2 M262.7,566.5 L381.3,566.5 M262.7,569.9 L381.3,569.9 M262.7,573.1 L381.3,573.1 M262.7,576.5 L381.3,576.5 M262.7,579.8 L381.3,579.8 M262.7,583.0 L381.3,583.0 M262.7,586.4 L381.3,586.4 M262.7,589.6 L381.3,589.6 M262.7,593.0 L381.3,593.0 M262.7,596.2 L381.3,596.2 M262.7,599.5 L381.3,599.5 M262.7,602.9 L381.3,602.9 M262.7,606.1 L381.3,606.1 M262.7,609.5 L381.3,609.5 M262.7,612.8 L381.3,612.8 M262.7,616.0 L381.3,616.0 M262.7,619.4 L381.3,619.4 M262.7,622.6 L381.3,622.6 M262.7,626.0 L381.3,626.0" stroke-width="1.3" stroke="#333"/>
<path d="M275.3,567.1 L250,582.5 L264.4,579.8 Z M308,565.3 L332.5,584.3 L308,581.6 Z" fill="#9a9a9a" stroke="none"/>
<line x1="275.3" y1="567.1" x2="250" y2="582.5" stroke-width="1.6"/>
<line x1="275.3" y1="567.1" x2="264.4" y2="579.8" stroke-width="1.4"/>
<line x1="308" y1="565.3" x2="333.4" y2="584.3" stroke-width="1.8"/>
<line x1="308" y1="565.3" x2="308" y2="581.6" stroke-width="1.4"/>
<circle cx="275.3" cy="567.3" r="1.8" fill="#111" stroke="none"/><circle cx="308" cy="565.5" r="1.8" fill="#111" stroke="none"/>
<path d="M264.4,579.8 Q282,586 308,581.6" stroke-width="2.0"/>
<path d="M247.5,583.2 L254.5,592.4 L325,593.1 L333.4,584.3 Z" fill="#4a4a4a" stroke="none"/>
<path d="M256,587.2 Q290,585.5 326,588" stroke-width="1.1" stroke="#b5b5b5"/>
<path d="M247.5,583.2 L254.5,592.4 L325,593.1" stroke-width="2.6"/>
<line x1="248" y1="584.3" x2="333.4" y2="584.3" stroke-width="1.6"/>
<path d="M340.6,509.4 L352.5,518.8 L351.3,535 L340,543 L335.6,542.5 Z" fill="#c8c8c8" stroke="none"/>
<clipPath id="c9"><path d="M340.6,509.4 L352.5,518.8 L351.3,535 L340,543 L335.6,542.5 Z"/></clipPath><path clip-path="url(#c9)" d="M395.2,487.5 L387.7,573.2 M392.4,487.3 L384.9,573.0 M389.6,487.0 L382.1,572.7 M386.9,486.8 L379.4,572.5 M384.1,486.5 L376.6,572.2 M381.3,486.3 L373.8,572.0 M378.5,486.0 L371.0,571.7 M375.7,485.8 L368.2,571.5 M372.9,485.5 L365.4,571.3 M370.1,485.3 L362.6,571.0 M367.3,485.1 L359.8,570.8 M364.5,484.8 L357.0,570.5 M361.7,484.6 L354.2,570.3 M359.0,484.3 L351.5,570.0 M356.2,484.1 L348.7,569.8 M353.4,483.8 L345.9,569.5 M350.6,483.6 L343.1,569.3 M347.8,483.3 L340.3,569.1 M345.0,483.1 L337.5,568.8 M342.2,482.9 L334.7,568.6 M339.4,482.6 L331.9,568.3 M336.6,482.4 L329.1,568.1 M333.9,482.1 L326.4,567.8 M331.1,481.9 L323.6,567.6 M328.3,481.6 L320.8,567.3 M325.5,481.4 L318.0,567.1 M322.7,481.1 L315.2,566.9 M319.9,480.9 L312.4,566.6 M317.1,480.7 L309.6,566.4 M314.3,480.4 L306.8,566.1 M311.5,480.2 L304.0,565.9 M308.7,479.9 L301.2,565.6 M306.0,479.7 L298.5,565.4 M303.2,479.4 L295.7,565.1 M300.4,479.2 L292.9,564.9" stroke-width="1.1" stroke="#444"/>
<path d="M340.6,509.4 L371.3,525 L368.8,561.3 L336.3,583.8 L325,593.1" stroke-width="2.5"/>
<line x1="340.6" y1="509.4" x2="335.6" y2="542.5" stroke-width="1.8"/>
<line x1="352.5" y1="518.8" x2="351.3" y2="535" stroke-width="1.2"/>
<line x1="351.3" y1="535" x2="340" y2="543" stroke-width="2.2"/>
<line x1="338.8" y1="544" x2="337" y2="582" stroke-width="1.4"/>
<path d="M361.5,528.5 Q366,527 364.5,523.5" stroke-width="1.4"/>
<text x="266.6" y="615.5" class="fgl" font-size="22" textLength="62.8" lengthAdjust="spacing">Fig.13</text>
</g>
</svg>
</body></html>
